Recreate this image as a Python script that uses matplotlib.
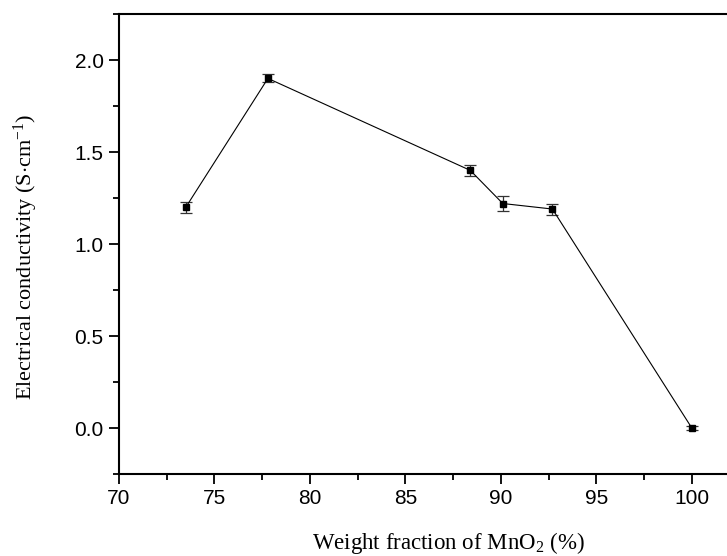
import matplotlib
matplotlib.use("Agg")
import matplotlib.pyplot as plt
from matplotlib.ticker import MultipleLocator

plt.rcParams["mathtext.fontset"] = "custom"
plt.rcParams["mathtext.rm"] = "Liberation Serif"
plt.rcParams["mathtext.it"] = "Liberation Serif:italic"
plt.rcParams["mathtext.bf"] = "Liberation Serif:bold"

# Data
mno2_fraction = [73.5, 77.8, 88.4, 90.1, 92.7, 100.0]
conductivity = [1.20, 1.90, 1.40, 1.22, 1.19, 0.00]
conductivity_err = [0.030, 0.022, 0.028, 0.040, 0.030, 0.010]

x_ticks = [70, 75, 80, 85, 90, 95, 100]
y_ticks = [0.0, 0.5, 1.0, 1.5, 2.0]

fig = plt.figure(figsize=(7.27, 5.56), dpi=100)
W, H = 727, 556
left_px, right_px, top_px, bot_px = 119, 730, 14, 474
ax = fig.add_axes([left_px / W, 1 - bot_px / H, (right_px - left_px) / W, (bot_px - top_px) / H])

ax.errorbar(mno2_fraction, conductivity, yerr=conductivity_err,
            color="black", linewidth=0.8, marker="s", markersize=5,
            ecolor="#333333", elinewidth=0.9, capsize=4, capthick=0.9)

ax.set_xlim(70, 102)
ax.set_ylim(-0.25, 2.25)
ax.set_xticks(x_ticks)
ax.set_yticks(y_ticks)
ax.xaxis.set_minor_locator(MultipleLocator(2.5))
ax.yaxis.set_minor_locator(MultipleLocator(0.25))
ax.set_yticklabels([f"{v:.1f}" for v in y_ticks])

for s in ax.spines.values():
    s.set_linewidth(1.5)

ax.tick_params(which="major", direction="out", length=7, width=1.3,
               labelsize=15, pad=4)
ax.tick_params(which="minor", direction="out", length=4, width=1.3)
for lab in ax.get_xticklabels() + ax.get_yticklabels():
    lab.set_fontfamily("Liberation Sans")

fig.text(448 / W, 1 - 543 / H, r"Weight fraction of MnO$_\mathrm{2}$ (%)",
         ha="center", va="center", fontsize=16.5, family="Liberation Serif")
fig.text(26 / W, 1 - 257 / H, r"Electrical conductivity (S$\cdot$cm$^{-1}$)",
         ha="center", va="center", rotation=90, fontsize=16,
         family="Liberation Serif")

fig.savefig("out.png", dpi=100)
